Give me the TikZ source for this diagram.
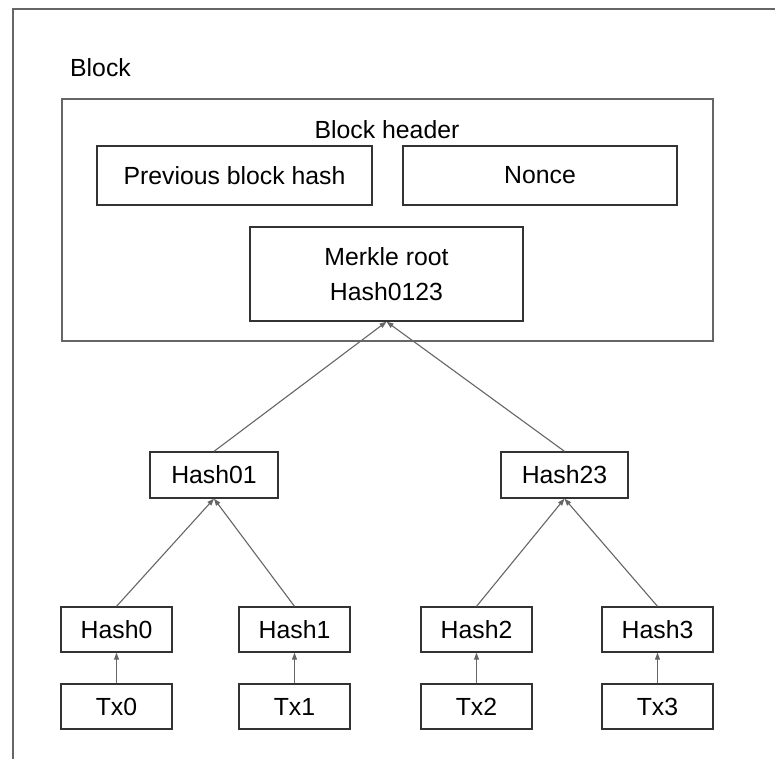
\documentclass[tikz,border=0pt]{standalone}
\usepackage{fontspec}
\setmainfont{Liberation Sans}
\usetikzlibrary{arrows.meta}
\begin{document}
\begin{tikzpicture}[x=1pt,y=-1pt,
  box/.style={draw=black!80,line width=1.3pt,inner sep=0pt,font=\fontsize{24.8}{35}\selectfont,align=center},
  frame/.style={draw=black!60,line width=1.3pt},
  lbl/.style={inner sep=0pt,font=\fontsize{24.8}{30}\selectfont},
  arr/.style={draw=black!60,line width=1.1pt,-{Triangle[length=7pt,width=5pt]}}]
\useasboundingbox (0,0) rectangle (775,758);
\fill[white] (0,0) rectangle (775,758);
% outer frame (clipped by image)
\draw[frame] (13,760) -- (13,9) -- (777,9);
\node[lbl] (blocklbl) at (100.5,68) {Block};
% header
\node[frame,draw,minimum width=651pt,minimum height=242pt,inner sep=0pt] (hdr) at (387.5,220) {};
\node[lbl] (hdrlbl) at (387,130) {Block header};
\node[box,minimum width=275pt,minimum height=59pt] (prev) at (234.5,175.5) {Previous block hash};
\node[box,minimum width=274pt,minimum height=59pt] (nonce) at (540,175.5) {Nonce};
\node[box,minimum width=273pt,minimum height=94pt] (merkle) at (386.5,274) {Merkle root\\Hash0123};
% level 1
\node[box,minimum width=128pt,minimum height=46pt] (h01) at (214,475) {Hash01};
\node[box,minimum width=127pt,minimum height=46pt] (h23) at (564.5,475) {Hash23};
% level 2
\node[box,minimum width=111pt,minimum height=45pt] (h0) at (116.5,629.5) {Hash0};
\node[box,minimum width=111pt,minimum height=45pt] (h1) at (294.5,629.5) {Hash1};
\node[box,minimum width=111pt,minimum height=45pt] (h2) at (476.5,629.5) {Hash2};
\node[box,minimum width=111pt,minimum height=45pt] (h3) at (657.5,629.5) {Hash3};
% transactions
\node[box,minimum width=111pt,minimum height=45pt] (t0) at (116.5,706.5) {Tx0};
\node[box,minimum width=111pt,minimum height=45pt] (t1) at (294.5,706.5) {Tx1};
\node[box,minimum width=111pt,minimum height=45pt] (t2) at (476.5,706.5) {Tx2};
\node[box,minimum width=111pt,minimum height=45pt] (t3) at (657.5,706.5) {Tx3};
% arrows
\draw[arr] (h01.north) -- (merkle.south);
\draw[arr] (h23.north) -- (merkle.south);
\draw[arr] (h0.north) -- (h01.south);
\draw[arr] (h1.north) -- (h01.south);
\draw[arr] (h2.north) -- (h23.south);
\draw[arr] (h3.north) -- (h23.south);
\draw[arr] (t0.north) -- (h0.south);
\draw[arr] (t1.north) -- (h1.south);
\draw[arr] (t2.north) -- (h2.south);
\draw[arr] (t3.north) -- (h3.south);
\end{tikzpicture}
\end{document}
